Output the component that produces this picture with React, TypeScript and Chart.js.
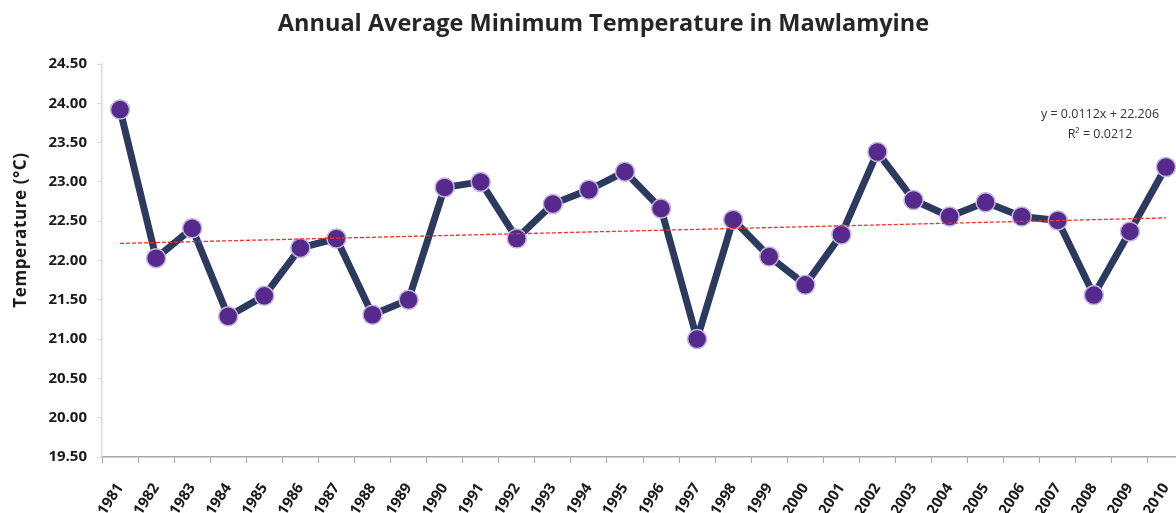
import React, { useEffect, useRef } from "react";
import { Chart, registerables } from "chart.js";

Chart.register(...registerables);

const years: string[] = [
  "1981", "1982", "1983", "1984", "1985", "1986", "1987", "1988", "1989", "1990",
  "1991", "1992", "1993", "1994", "1995", "1996", "1997", "1998", "1999", "2000",
  "2001", "2002", "2003", "2004", "2005", "2006", "2007", "2008", "2009", "2010",
];

const minTemp: number[] = [
  23.92, 22.03, 22.41, 21.29, 21.55, 22.16, 22.28, 21.31, 21.5, 22.93,
  23.0, 22.28, 22.72, 22.9, 23.13, 22.66, 21.0, 22.52, 22.05, 21.69,
  22.33, 23.38, 22.77, 22.56, 22.74, 22.56, 22.51, 21.56, 22.37, 23.19,
];

const trendStart = 22.217;
const trendEnd = 22.542;

const titleText = "Annual Average Minimum Temperature in Mawlamyine";
const yAxisTitle = "Temperature (°C)";
const equationLines: string[] = ["y = 0.0112x + 22.206", "R² = 0.0212"];

const yMin = 19.5;
const yMax = 24.5;
const yStep = 0.5;

const FONT = "'Open Sans', 'DejaVu Sans', sans-serif";

export default function App() {
  const canvasRef = useRef<HTMLCanvasElement | null>(null);

  useEffect(() => {
    document.body.style.margin = "0";
    const canvas = canvasRef.current;
    if (!canvas) return;
    const last = years.length - 1;
    const trendData = years.map((_, i) => (i === 0 ? trendStart : i === last ? trendEnd : null));
    const chart = new Chart(canvas, {
      type: "line",
      data: {
        labels: years,
        datasets: [
          {
            label: "Temperature",
            data: minTemp,
            borderColor: "#2d3a5f",
            borderWidth: 7,
            borderJoinStyle: "bevel",
            pointRadius: 9.5,
            pointBackgroundColor: "#552a8c",
            pointBorderColor: "#c4b3df",
            pointBorderWidth: 1.5,
            tension: 0,
            order: 1,
          },
          {
            label: "Trend",
            data: trendData,
            borderColor: "#ff2a2a",
            borderWidth: 1.3,
            borderDash: [4, 2],
            pointRadius: 0,
            spanGaps: true,
            order: 0,
          },
        ],
      },
      options: {
        responsive: false,
        animation: false,
        devicePixelRatio: 1,
        layout: { padding: { top: 64, right: 7, bottom: 0, left: 6 } },
        plugins: {
          legend: { display: false },
          title: { display: false },
          tooltip: { enabled: false },
        },
        scales: {
          x: {
            offset: true,
            afterFit: (scale: any) => {
              scale.height = 75;
              scale.paddingLeft = 0;
              scale.paddingRight = 0;
            },
            grid: {
              offset: true,
              drawOnChartArea: false,
              drawTicks: true,
              tickLength: 6,
              color: "#a6a6a6",
            },
            border: { display: true, color: "#a6a6a6", width: 1.5 },
            ticks: {
              minRotation: 57,
              maxRotation: 57,
              autoSkip: false,
              padding: 17,
              color: "#1a1a1a",
              font: { family: FONT, size: 15, weight: "bold" },
            },
          },
          y: {
            min: yMin,
            max: yMax,
            afterFit: (scale: any) => {
              scale.width = 96;
            },
            grid: {
              drawOnChartArea: false,
              drawTicks: true,
              tickLength: 5,
              color: "#d5dbe6",
            },
            border: { display: true, color: "#d5dbe6", width: 1.5 },
            ticks: {
              stepSize: yStep,
              padding: 10,
              color: "#1a1a1a",
              font: { family: FONT, size: 15, weight: "bold" },
              callback: (v: any) => Number(v).toFixed(2),
            },
          },
        },
      },
    });
    return () => chart.destroy();
  }, []);

  return (
    <div
      style={{
        position: "absolute",
        left: 0,
        top: 0,
        width: 1176,
        height: 513,
        overflow: "hidden",
        background: "#ffffff",
      }}
    >
      <canvas ref={canvasRef} width={1195} height={532} style={{ position: "absolute", left: 0, top: 0 }} />
      <div
        style={{
          position: "absolute",
          left: 0,
          top: 5,
          width: 1207,
          textAlign: "center",
          fontFamily: FONT,
          fontWeight: 700,
          fontSize: 23.5,
          lineHeight: "34px",
          color: "#262626",
        }}
      >
        {titleText}
      </div>
      <div
        style={{
          position: "absolute",
          left: 20 - 100,
          top: 230 - 12,
          width: 200,
          height: 24,
          lineHeight: "24px",
          textAlign: "center",
          transform: "rotate(-90deg)",
          fontFamily: FONT,
          fontWeight: 700,
          fontSize: 17,
          letterSpacing: "0.6px",
          color: "#1a1a1a",
          whiteSpace: "nowrap",
        }}
      >
        {yAxisTitle}
      </div>
      <div
        style={{
          position: "absolute",
          left: 1000,
          top: 104,
          width: 200,
          textAlign: "center",
          fontFamily: FONT,
          fontSize: 12.5,
          lineHeight: "20px",
          color: "#333333",
        }}
      >
        {equationLines.map((l) => (
          <div key={l}>{l}</div>
        ))}
      </div>
    </div>
  );
}
